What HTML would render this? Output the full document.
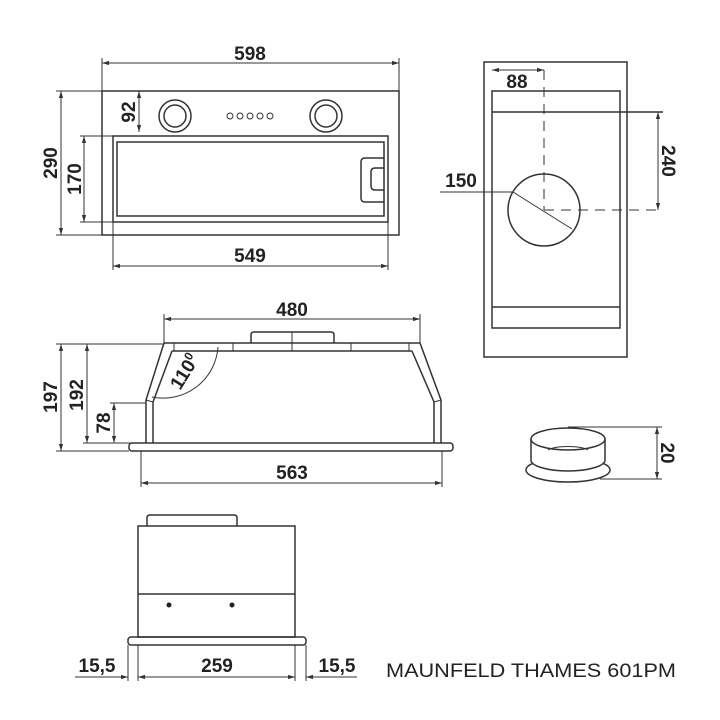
<!DOCTYPE html>
<html><head><meta charset="utf-8"><style>
html,body{margin:0;padding:0;background:#fff}
svg{display:block}
text{font-family:"Liberation Sans",Arial,sans-serif;fill:#222}
.d{font-weight:bold;font-size:19px}
</style></head><body>
<svg width="720" height="720" viewBox="0 0 720 720" xmlns="http://www.w3.org/2000/svg">
<defs>
<marker id="a" viewBox="0 0 10 10" refX="10" refY="5" markerWidth="7" markerHeight="7" orient="auto-start-reverse"><path d="M0,2 L10,5 L0,8 z" fill="#333"/></marker>
</defs>
<g stroke="#333" fill="none" stroke-width="1">
<line x1="102" y1="58" x2="102" y2="91"/><line x1="399" y1="58" x2="399" y2="91"/>
<line x1="102" y1="63" x2="399" y2="63" marker-start="url(#a)" marker-end="url(#a)"/>
<rect x="102" y="91" width="297" height="144" stroke-width="1.5"/>
<rect x="113" y="136" width="275" height="86" stroke-width="1.5"/>
<rect x="117" y="142" width="267" height="74" stroke-width="1.5"/>
<circle cx="175" cy="116" r="16" stroke-width="1.5"/><circle cx="175" cy="116" r="11" stroke-width="1.5"/>
<circle cx="326" cy="116" r="16" stroke-width="1.5"/><circle cx="326" cy="116" r="11" stroke-width="1.5"/>
<circle cx="230" cy="116" r="3"/><circle cx="240" cy="116" r="3"/><circle cx="250" cy="116" r="3"/><circle cx="260" cy="116" r="3"/><circle cx="270" cy="116" r="3"/>
<path d="M384,158 H365 Q361,158 361,162 V198 Q361,202 365,202 H384" stroke-width="1.5"/>
<path d="M384,168 H375 Q371,168 371,172 V186 Q371,190 375,190 H384" stroke-width="1.5"/>
<line x1="56" y1="91" x2="102" y2="91"/><line x1="56" y1="235" x2="102" y2="235"/>
<line x1="61" y1="91" x2="61" y2="235" marker-start="url(#a)" marker-end="url(#a)"/>
<line x1="80" y1="136" x2="113" y2="136"/><line x1="80" y1="222" x2="113" y2="222"/>
<line x1="84" y1="136" x2="84" y2="222" marker-start="url(#a)" marker-end="url(#a)"/>
<line x1="139" y1="91" x2="139" y2="132" marker-start="url(#a)" marker-end="url(#a)"/>
<line x1="113" y1="222" x2="113" y2="270"/><line x1="388" y1="222" x2="388" y2="270"/>
<line x1="113" y1="266" x2="388" y2="266" marker-start="url(#a)" marker-end="url(#a)"/>
<line x1="164" y1="314" x2="164" y2="343"/><line x1="420" y1="314" x2="420" y2="343"/>
<line x1="164" y1="319" x2="420" y2="319" marker-start="url(#a)" marker-end="url(#a)"/>
<path d="M251,343 V335 Q251,332 254,332 H331 Q334,332 334,335 V343" stroke-width="1.5"/>
<line x1="292" y1="332" x2="292" y2="351"/>
<path d="M164,343 H420 L441,400 V443" stroke-width="1.5"/>
<path d="M164,343 L146,400 V443" stroke-width="1.5"/>
<path d="M172,351 H412 M412,351 L434,402 V443 M172,351 L153,402 V443" stroke-width="1.5"/>
<line x1="174" y1="343" x2="174" y2="351"/><line x1="233" y1="343" x2="233" y2="351"/><line x1="351" y1="343" x2="351" y2="351"/><line x1="409" y1="343" x2="409" y2="351"/>
<line x1="146" y1="400" x2="153" y2="402"/><line x1="441" y1="400" x2="434" y2="402"/>
<rect x="129" y="443" width="324" height="8" rx="3" stroke-width="1.5"/>
<path d="M218,347 A55,55 0 0 1 152,397" />
<line x1="56" y1="344" x2="164" y2="344"/><line x1="56" y1="451" x2="129" y2="451"/>
<line x1="61" y1="344" x2="61" y2="451" marker-start="url(#a)" marker-end="url(#a)"/>
<line x1="87" y1="344" x2="87" y2="443" marker-start="url(#a)" marker-end="url(#a)"/>
<line x1="83" y1="443" x2="146" y2="443"/>
<line x1="110" y1="403" x2="146" y2="403"/>
<line x1="114" y1="403" x2="114" y2="443" marker-start="url(#a)" marker-end="url(#a)"/>
<line x1="141" y1="451" x2="141" y2="487"/><line x1="442" y1="451" x2="442" y2="487"/>
<line x1="141" y1="483" x2="442" y2="483" marker-start="url(#a)" marker-end="url(#a)"/>
<rect x="484" y="62" width="143" height="295" stroke-width="1.5"/>
<rect x="492" y="91" width="128" height="237" stroke-width="1.5"/>
<line x1="492" y1="112" x2="663" y2="112" stroke-width="1.5"/>
<line x1="492" y1="307" x2="620" y2="307" stroke-width="1.5"/>
<circle cx="544" cy="210" r="36" stroke-width="1.5"/>
<line x1="544" y1="70" x2="544" y2="210" stroke-dasharray="10,7"/>
<line x1="544" y1="210" x2="663" y2="210" stroke-dasharray="10,7"/>
<line x1="492" y1="70" x2="544" y2="70" marker-start="url(#a)" marker-end="url(#a)"/>
<line x1="658" y1="112" x2="658" y2="210" marker-start="url(#a)" marker-end="url(#a)"/>
<line x1="440" y1="192" x2="513" y2="192"/><line x1="513" y1="192" x2="572" y2="229"/>
<ellipse cx="568" cy="470" rx="42" ry="12" stroke-width="1.5"/>
<path d="M531,439 V460 A37,11 0 0 0 605,460 V439" stroke-width="1.5" fill="#fff"/>
<ellipse cx="568" cy="439" rx="37" ry="11" stroke-width="1.5"/>
<path d="M548,450 A22,6 0 0 1 588,450"/>
<line x1="568" y1="427" x2="662" y2="427"/><line x1="600" y1="479" x2="662" y2="479"/>
<line x1="657" y1="427" x2="657" y2="479" marker-start="url(#a)" marker-end="url(#a)"/>
<path d="M147,526 V518 Q147,515 150,515 H234 Q237,515 237,518 V526" stroke-width="1.5"/>
<rect x="138" y="526" width="157" height="111" stroke-width="1.5"/>
<line x1="138" y1="594" x2="295" y2="594" stroke-width="1.5"/>
<rect x="128" y="637" width="178" height="8" rx="3" stroke-width="1.5"/>
<line x1="128" y1="645" x2="128" y2="681"/><line x1="138" y1="645" x2="138" y2="681"/>
<line x1="295" y1="645" x2="295" y2="681"/><line x1="306" y1="645" x2="306" y2="681"/>
<line x1="138" y1="677" x2="295" y2="677" marker-start="url(#a)" marker-end="url(#a)"/>
<line x1="75" y1="677" x2="128" y2="677" marker-end="url(#a)"/>
<line x1="357" y1="677" x2="306" y2="677" marker-end="url(#a)"/>
</g>
<circle cx="169" cy="605" r="2.5" fill="#222"/><circle cx="232" cy="605" r="2.5" fill="#222"/>
<text class="d" x="250" y="60" text-anchor="middle">598</text>
<text class="d" x="250" y="262" text-anchor="middle">549</text>
<text class="d" transform="translate(57,163) rotate(-90)" text-anchor="middle">290</text>
<text class="d" transform="translate(81,179) rotate(-90)" text-anchor="middle">170</text>
<text class="d" transform="translate(135,112) rotate(-90)" text-anchor="middle">92</text>
<text class="d" x="292" y="316" text-anchor="middle">480</text>
<text class="d" x="292" y="479" text-anchor="middle">563</text>
<text class="d" transform="translate(57,397) rotate(-90)" text-anchor="middle">197</text>
<text class="d" transform="translate(83,395) rotate(-90)" text-anchor="middle">192</text>
<text class="d" transform="translate(110,423) rotate(-90)" text-anchor="middle">78</text>
<text class="d" transform="translate(190,375) rotate(-58)" text-anchor="middle">110<tspan font-size="12" dy="-7">0</tspan></text>
<text class="d" x="517" y="88" text-anchor="middle">88</text>
<text class="d" x="461" y="187" text-anchor="middle">150</text>
<text class="d" transform="translate(662,161) rotate(90)" text-anchor="middle">240</text>
<text class="d" transform="translate(661,453) rotate(90)" text-anchor="middle">20</text>
<text class="d" x="97" y="672" text-anchor="middle">15,5</text>
<text class="d" x="217" y="672" text-anchor="middle">259</text>
<text class="d" x="337" y="672" text-anchor="middle">15,5</text>
<text x="386" y="677" font-size="19" textLength="290" lengthAdjust="spacingAndGlyphs">MAUNFELD THAMES 601PM</text>
</svg>
</body></html>
